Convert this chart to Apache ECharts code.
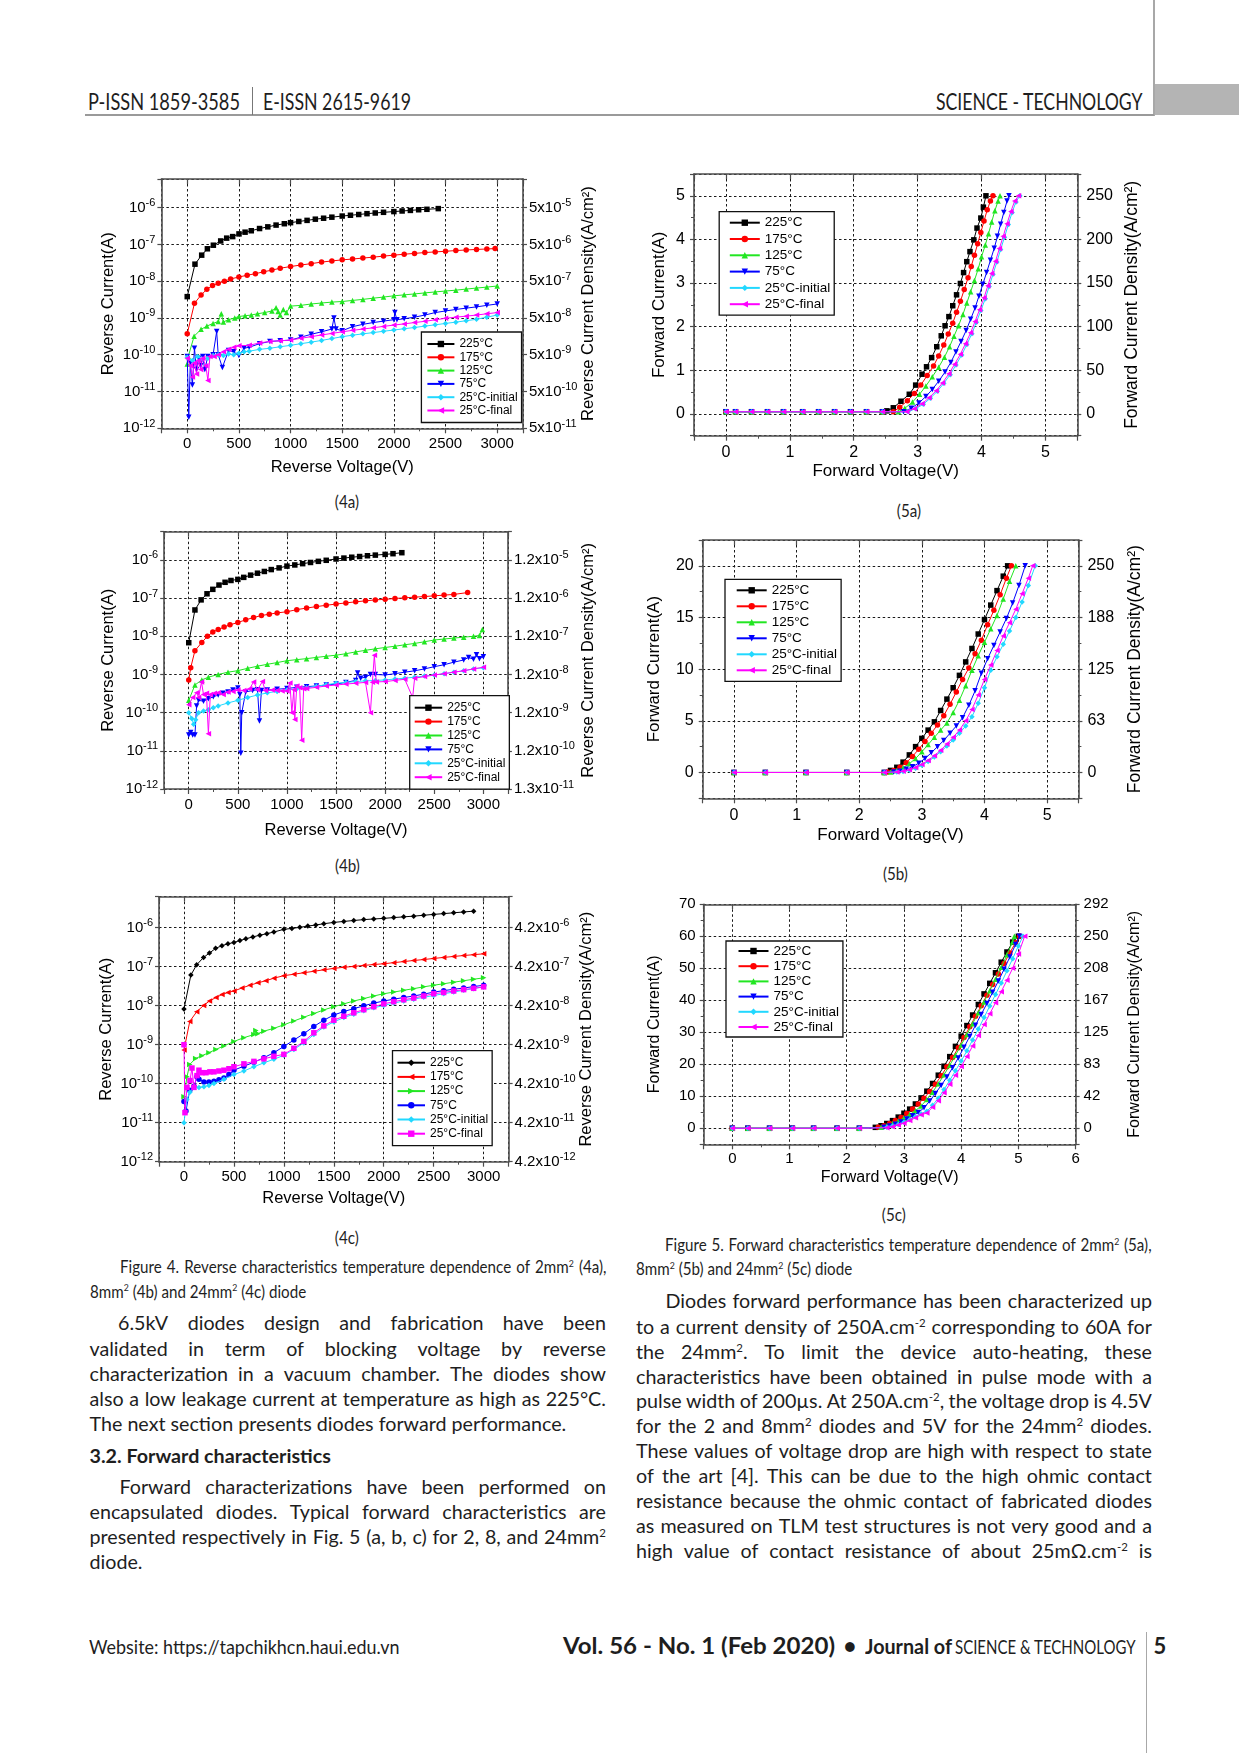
<!DOCTYPE html>
<html><head><meta charset="utf-8">
<script src="https://cdn.jsdelivr.net/npm/echarts@6/dist/echarts.min.js"></script>
<style>
html,body{margin:0;padding:0;background:#fff;}
body{width:1239px;height:1753px;position:relative;overflow:hidden;}
.chart{position:absolute;}
.line{position:absolute;height:26px;line-height:26px;white-space:nowrap;color:#1e1e1e;transform-origin:0 50%;}
.j{display:flex;justify-content:space-between;}
.sup{font-size:0.58em;position:relative;top:-0.6em;}
.bar{position:absolute;}
.t{position:absolute;white-space:nowrap;color:#1e1e1e;}
</style></head><body>
<div class="bar" style="left:1153px;top:0;width:1.5px;height:116px;background:#a8a8a8"></div>
<div class="bar" style="left:1155px;top:84px;width:84px;height:31px;background:#b4b4b4"></div>
<div class="bar" style="left:85px;top:114px;width:1069px;height:2px;background:#9a9a9a"></div>
<div class="bar" style="left:252px;top:87px;width:1px;height:28px;background:#777"></div>
<div class="bar" style="left:1146px;top:1632px;width:1.2px;height:121px;background:#a8a8a8"></div>

<div id="c4a" class="chart"></div>
<div id="c4b" class="chart"></div>
<div id="c4c" class="chart"></div>
<div id="c5a" class="chart"></div>
<div id="c5b" class="chart"></div>
<div id="c5c" class="chart"></div>

<script>
// ---------------- DATA ----------------
const seriesNames = ['225°C', '175°C', '125°C', '75°C', '25°C-initial', '25°C-final'];

// Fig 4a : reverse current (A) vs reverse voltage (V), 2 mm2
const r4a_225 = [[0,3.8e-9],[75,2.9e-8],[140,5.1e-8],[195,7.6e-8],[253,9.5e-8],[324,1.24e-7],[382,1.48e-7],[440,1.63e-7],[501,1.93e-7],[560,2.15e-7],[620,2.35e-7],[700,2.7e-7],[780,3.0e-7],[860,3.35e-7],[940,3.65e-7],[1000,3.9e-7],[1080,4.2e-7],[1160,4.5e-7],[1240,4.85e-7],[1320,5.15e-7],[1400,5.5e-7],[1500,5.9e-7],[1580,6.2e-7],[1660,6.5e-7],[1740,6.85e-7],[1820,7.15e-7],[1900,7.45e-7],[2000,7.8e-7],[2080,8.1e-7],[2160,8.4e-7],[2240,8.75e-7],[2320,9.0e-7],[2430,9.4e-7]];
const r4a_175 = [[0,3.7e-10],[70,2.5e-9],[134,4.2e-9],[190,6.0e-9],[245,7.6e-9],[300,8.8e-9],[360,1.0e-8],[420,1.15e-8],[500,1.3e-8],[580,1.45e-8],[660,1.6e-8],[740,1.8e-8],[820,2.0e-8],[900,2.25e-8],[1000,2.5e-8],[1100,2.75e-8],[1200,3.0e-8],[1300,3.3e-8],[1400,3.55e-8],[1500,3.8e-8],[1600,4.0e-8],[1700,4.25e-8],[1800,4.5e-8],[1900,4.8e-8],[2000,5.1e-8],[2100,5.4e-8],[2200,5.7e-8],[2300,6.0e-8],[2400,6.25e-8],[2500,6.5e-8],[2600,6.8e-8],[2700,7.05e-8],[2800,7.3e-8],[2900,7.5e-8],[2980,7.7e-8]];
const r4a_125 = [[0,5.6e-11],[10,9e-11],[67,3.2e-10],[134,4.9e-10],[190,6.0e-10],[250,7.1e-10],[300,8.0e-10],[330,1.3e-9],[350,7.8e-10],[400,9.0e-10],[460,1.0e-9],[500,1.1e-9],[560,1.15e-9],[620,1.2e-9],[680,1.3e-9],[750,1.4e-9],[820,1.55e-9],[860,1.9e-9],[880,1.5e-9],[900,1.2e-9],[930,1.7e-9],[960,1.4e-9],[1000,2.1e-9],[1100,2.2e-9],[1200,2.4e-9],[1300,2.55e-9],[1400,2.7e-9],[1500,2.8e-9],[1600,3.0e-9],[1700,3.2e-9],[1800,3.45e-9],[1900,3.7e-9],[2000,4.0e-9],[2100,4.25e-9],[2200,4.5e-9],[2300,4.8e-9],[2400,5.1e-9],[2500,5.4e-9],[2600,5.7e-9],[2700,6.1e-9],[2800,6.5e-9],[2900,6.9e-9],[3000,7.4e-9]];
const r4a_75 = [[0,9e-11],[15,2e-12],[30,6e-11],[50,1.5e-11],[70,1.5e-10],[90,4e-11],[110,8e-11],[130,5e-11],[150,9e-11],[170,4e-11],[200,9e-11],[250,1.0e-10],[285,4.3e-10],[300,1.0e-10],[340,4.5e-11],[400,1.3e-10],[450,1.2e-10],[500,9.5e-11],[550,1.5e-10],[600,1.6e-10],[700,2.0e-10],[800,2.3e-10],[900,2.4e-10],[1000,2.5e-10],[1100,3.0e-10],[1200,3.6e-10],[1300,4.2e-10],[1400,5.0e-10],[1420,1.0e-9],[1440,5.0e-10],[1500,4.5e-10],[1600,5.8e-10],[1700,6.7e-10],[1800,7.5e-10],[1900,8.2e-10],[2000,9.0e-10],[2010,1.4e-9],[2030,9e-10],[2100,9.5e-10],[2200,1.05e-9],[2300,1.2e-9],[2400,1.4e-9],[2500,1.55e-9],[2600,1.7e-9],[2700,1.85e-9],[2800,2.0e-9],[2900,2.2e-9],[3000,2.4e-9]];
const r4a_25i = [[0,8.5e-11],[50,7e-11],[100,9e-11],[150,7.5e-11],[200,8e-11],[250,9.5e-11],[300,1.0e-10],[350,9.5e-11],[400,1.05e-10],[450,1.0e-10],[500,1.1e-10],[550,1.2e-10],[600,1.25e-10],[700,1.4e-10],[800,1.5e-10],[900,1.65e-10],[1000,1.8e-10],[1100,2.0e-10],[1200,2.2e-10],[1300,2.45e-10],[1400,2.75e-10],[1500,3.1e-10],[1600,3.4e-10],[1700,3.7e-10],[1800,4.0e-10],[1900,4.35e-10],[2000,4.7e-10],[2100,5.1e-10],[2200,5.5e-10],[2300,6.0e-10],[2400,6.5e-10],[2500,7.1e-10],[2600,7.7e-10],[2700,8.4e-10],[2800,9.2e-10],[2900,1.05e-9],[3000,1.2e-9]];
const r4a_25f = [[0,8e-11],[30,5e-11],[50,2.5e-11],[70,6e-11],[90,3e-11],[110,7e-11],[130,4e-11],[150,8e-11],[180,5e-11],[200,2e-11],[220,9e-11],[260,9e-11],[300,1.0e-10],[350,1.2e-10],[400,1.4e-10],[450,1.6e-10],[500,1.75e-10],[600,1.8e-10],[700,2.1e-10],[800,2.3e-10],[900,2.4e-10],[1000,2.5e-10],[1100,2.8e-10],[1200,3.1e-10],[1300,3.45e-10],[1400,3.8e-10],[1500,4.2e-10],[1600,4.6e-10],[1700,5.0e-10],[1800,5.4e-10],[1900,5.9e-10],[2000,6.4e-10],[2100,6.9e-10],[2200,7.5e-10],[2300,8.1e-10],[2400,8.9e-10],[2500,9.8e-10],[2600,1.05e-9],[2700,1.12e-9],[2800,1.2e-9],[2900,1.3e-9],[3000,1.4e-9]];

// Fig 4b : 8 mm2
const r4b_225 = [[0,6.8e-9],[63,4.9e-8],[126,9e-8],[186,1.3e-7],[245,1.7e-7],[308,2.2e-7],[370,2.6e-7],[430,2.9e-7],[500,3.1e-7],[560,3.5e-7],[630,4.0e-7],[700,4.5e-7],[770,5.0e-7],[840,5.6e-7],[920,6.2e-7],[1000,6.9e-7],[1080,7.4e-7],[1160,8.0e-7],[1240,8.6e-7],[1320,9.2e-7],[1400,9.8e-7],[1500,1.06e-6],[1580,1.12e-6],[1660,1.18e-6],[1740,1.23e-6],[1820,1.29e-6],[1900,1.34e-6],[2000,1.4e-6],[2080,1.46e-6],[2170,1.55e-6]];
const r4b_175 = [[0,7.2e-10],[20,1.5e-9],[63,4.2e-9],[133,6.9e-9],[190,1.0e-8],[245,1.3e-8],[300,1.5e-8],[360,1.75e-8],[420,2.0e-8],[500,2.3e-8],[580,2.7e-8],[660,3.1e-8],[740,3.5e-8],[820,3.8e-8],[900,4.1e-8],[1000,4.4e-8],[1100,5.0e-8],[1200,5.5e-8],[1300,6.0e-8],[1400,6.5e-8],[1500,7.0e-8],[1600,7.5e-8],[1700,8.0e-8],[1800,8.5e-8],[1900,9.0e-8],[2000,9.3e-8],[2100,9.8e-8],[2200,1.02e-7],[2300,1.06e-7],[2400,1.1e-7],[2500,1.15e-7],[2600,1.2e-7],[2700,1.25e-7],[2840,1.4e-7]];
const r4b_125 = [[0,2.1e-10],[63,5.3e-10],[133,7.2e-10],[200,8.5e-10],[300,1.0e-9],[400,1.15e-9],[500,1.26e-9],[600,1.45e-9],[700,1.65e-9],[800,1.85e-9],[900,2.05e-9],[1000,2.3e-9],[1100,2.45e-9],[1200,2.6e-9],[1300,2.8e-9],[1400,3.0e-9],[1500,3.2e-9],[1600,3.5e-9],[1700,3.9e-9],[1800,4.3e-9],[1900,4.7e-9],[2000,5.1e-9],[2100,5.5e-9],[2200,6.0e-9],[2300,6.5e-9],[2400,7.2e-9],[2500,8.0e-9],[2600,8.5e-9],[2700,9.0e-9],[2800,9.5e-9],[2900,1.0e-8],[2960,1.05e-8],[2990,1.5e-8]];
const r4b_75 = [[0,2.6e-11],[20,3e-11],[40,2.6e-11],[63,2.6e-11],[80,1.5e-10],[100,2.1e-10],[150,2.0e-10],[200,2.3e-10],[250,2.6e-10],[300,2.9e-10],[350,3.2e-10],[400,3.5e-10],[450,3.9e-10],[500,4.4e-10],[520,3.0e-10],[530,8.7e-12],[540,1.0e-10],[580,3.5e-10],[650,3.8e-10],[700,4.0e-10],[720,6e-11],[740,3.8e-10],[800,3.9e-10],[900,4.1e-10],[1000,4.3e-10],[1100,4.6e-10],[1200,4.8e-10],[1300,5.0e-10],[1400,5.3e-10],[1500,5.6e-10],[1600,6.2e-10],[1700,7.0e-10],[1720,1.1e-9],[1750,8.0e-10],[1800,8.5e-10],[1850,1.0e-9],[1900,1.0e-9],[2000,9.7e-10],[2100,1.05e-9],[2200,1.15e-9],[2300,1.25e-9],[2400,1.4e-9],[2500,1.6e-9],[2600,1.8e-9],[2700,2.1e-9],[2800,2.4e-9],[2850,2.8e-9],[2900,2.5e-9],[2930,3.3e-9],[2960,2.6e-9],[3000,2.9e-9]];
const r4b_25i = [[0,1.0e-10],[30,7e-11],[50,5e-11],[70,6.5e-11],[100,1.0e-10],[150,1.1e-10],[200,1.2e-10],[250,1.35e-10],[300,1.5e-10],[400,1.8e-10],[500,2.1e-10],[600,2.5e-10],[700,2.9e-10],[800,3.3e-10],[900,3.6e-10],[1000,3.9e-10],[1100,4.2e-10],[1200,4.5e-10],[1300,4.9e-10],[1400,5.4e-10],[1500,5.9e-10],[1600,6.2e-10],[1700,6.5e-10],[1800,6.8e-10],[1900,7.0e-10],[2000,7.2e-10],[2100,7.6e-10],[2200,8.0e-10],[2300,8.5e-10],[2400,9.1e-10],[2500,9.7e-10],[2600,1.05e-9],[2700,1.15e-9],[2800,1.25e-9],[2900,1.4e-9],[3000,1.5e-9]];
const r4b_25f = [[0,1.6e-10],[40,2.5e-10],[80,3.3e-10],[100,2.5e-10],[130,6.4e-10],[150,3.0e-10],[180,3.2e-10],[200,2.8e-11],[220,3.0e-10],[260,3.2e-10],[300,3.3e-10],[350,3.0e-10],[400,3.5e-10],[450,3.6e-10],[500,3.9e-10],[560,3.8e-10],[620,4.2e-10],[660,6.4e-10],[700,4.0e-10],[750,6.5e-10],[780,3.8e-10],[850,3.9e-10],[900,3.8e-10],[950,3.7e-10],[1000,3.7e-10],[1030,6e-10],[1050,1.0e-10],[1070,4e-10],[1080,6.6e-11],[1100,5.0e-10],[1130,4.5e-10],[1150,1.9e-11],[1170,4.2e-10],[1200,4.3e-10],[1300,4.6e-10],[1400,5.0e-10],[1500,5.3e-10],[1600,5.6e-10],[1700,5.9e-10],[1800,6.2e-10],[1850,1.0e-10],[1870,6.3e-10],[1890,3.2e-9],[1910,6.4e-10],[2000,6.5e-10],[2100,7.0e-10],[2200,7.5e-10],[2280,2.5e-10],[2300,8.0e-10],[2400,8.8e-10],[2500,9.7e-10],[2600,1.05e-9],[2700,1.15e-9],[2800,1.25e-9],[2900,1.4e-9],[3000,1.55e-9]];

// Fig 4c : 24 mm2
const r4c_225 = [[0,8.1e-9],[69,6.0e-8],[127,1.1e-7],[196,1.7e-7],[255,2.2e-7],[317,2.9e-7],[380,3.4e-7],[440,3.8e-7],[500,4.1e-7],[560,4.6e-7],[620,5.1e-7],[690,5.7e-7],[760,6.3e-7],[830,6.9e-7],[900,7.6e-7],[1000,8.9e-7],[1080,9.4e-7],[1160,1.0e-6],[1240,1.08e-6],[1320,1.15e-6],[1400,1.24e-6],[1500,1.34e-6],[1600,1.42e-6],[1700,1.5e-6],[1800,1.58e-6],[1900,1.64e-6],[2000,1.7e-6],[2100,1.78e-6],[2200,1.86e-6],[2300,1.94e-6],[2400,2.04e-6],[2500,2.15e-6],[2600,2.25e-6],[2700,2.36e-6],[2800,2.48e-6],[2900,2.6e-6]];
const r4c_175 = [[0,7.2e-10],[58,3.9e-9],[127,6.9e-9],[196,1.0e-8],[255,1.3e-8],[320,1.6e-8],[380,1.9e-8],[440,2.15e-8],[500,2.35e-8],[580,2.8e-8],[660,3.3e-8],[740,3.8e-8],[820,4.3e-8],[900,5.0e-8],[1000,5.8e-8],[1100,6.3e-8],[1200,6.9e-8],[1300,7.5e-8],[1400,8.2e-8],[1500,8.9e-8],[1600,9.5e-8],[1700,1.0e-7],[1800,1.06e-7],[1900,1.12e-7],[2000,1.17e-7],[2100,1.25e-7],[2200,1.33e-7],[2300,1.42e-7],[2400,1.5e-7],[2500,1.6e-7],[2600,1.7e-7],[2700,1.8e-7],[2800,1.9e-7],[2900,2.0e-7],[3000,2.1e-7]];
const r4c_125 = [[0,4.6e-11],[30,1.5e-10],[58,3.1e-10],[117,4.4e-10],[180,5.2e-10],[250,6.2e-10],[320,7.5e-10],[400,9.2e-10],[500,1.2e-9],[600,1.5e-9],[700,1.8e-9],[720,2.3e-9],[740,1.9e-9],[800,2.2e-9],[900,2.6e-9],[1000,3.2e-9],[1100,4.0e-9],[1200,5.0e-9],[1300,6.2e-9],[1400,7.7e-9],[1500,9.3e-9],[1600,1.1e-8],[1700,1.3e-8],[1800,1.5e-8],[1900,1.75e-8],[2000,2.0e-8],[2100,2.2e-8],[2200,2.45e-8],[2300,2.7e-8],[2400,3.0e-8],[2500,3.3e-8],[2600,3.6e-8],[2700,3.95e-8],[2800,4.3e-8],[2900,4.7e-8],[3000,5.1e-8]];
const r4c_75 = [[0,3.5e-11],[20,2e-11],[58,6.8e-11],[100,8.5e-11],[130,1.5e-10],[150,1.3e-10],[200,1.1e-10],[250,1.1e-10],[300,1.15e-10],[350,1.25e-10],[400,1.4e-10],[450,1.7e-10],[500,2.2e-10],[600,2.8e-10],[700,3.5e-10],[800,4.6e-10],[900,6.2e-10],[1000,8.9e-10],[1100,1.3e-9],[1200,1.9e-9],[1300,2.9e-9],[1400,4.2e-9],[1500,5.7e-9],[1600,7.0e-9],[1700,8.3e-9],[1800,9.8e-9],[1900,1.15e-8],[2000,1.3e-8],[2100,1.45e-8],[2200,1.6e-8],[2300,1.75e-8],[2400,1.95e-8],[2500,2.2e-8],[2600,2.4e-8],[2700,2.6e-8],[2800,2.8e-8],[2900,3.05e-8],[3000,3.3e-8]];
const r4c_25i = [[0,1.0e-11],[30,4e-11],[60,6e-11],[100,8.3e-11],[150,8e-11],[200,8.3e-11],[250,9e-11],[300,1.0e-10],[400,1.3e-10],[500,1.7e-10],[600,2.1e-10],[700,2.7e-10],[800,3.4e-10],[900,4.2e-10],[1000,5.3e-10],[1100,7.5e-10],[1200,1.1e-9],[1300,1.8e-9],[1400,2.8e-9],[1500,3.8e-9],[1600,4.9e-9],[1700,6.0e-9],[1800,7.3e-9],[1900,8.7e-9],[2000,1.0e-8],[2100,1.15e-8],[2200,1.3e-8],[2300,1.45e-8],[2400,1.62e-8],[2500,1.8e-8],[2600,2.0e-8],[2700,2.2e-8],[2800,2.45e-8],[2900,2.7e-8],[3000,3.0e-8]];
const r4c_25f = [[0,9.9e-10],[10,1.8e-11],[30,8e-11],[60,1.2e-10],[80,2.5e-10],[100,8e-11],[130,1.6e-10],[150,2.2e-10],[180,1.9e-10],[220,1.9e-10],[260,2.0e-10],[300,2.0e-10],[350,2.1e-10],[400,2.2e-10],[450,2.4e-10],[500,2.7e-10],[600,3.2e-10],[700,3.7e-10],[800,4.3e-10],[900,5.0e-10],[1000,5.6e-10],[1100,8.0e-10],[1200,1.2e-9],[1300,2.0e-9],[1400,3.0e-9],[1500,4.2e-9],[1600,5.3e-9],[1700,6.5e-9],[1800,7.8e-9],[1900,9.3e-9],[2000,1.1e-8],[2100,1.25e-8],[2200,1.4e-8],[2300,1.55e-8],[2400,1.75e-8],[2500,2.0e-8],[2600,2.15e-8],[2700,2.35e-8],[2800,2.55e-8],[2900,2.75e-8],[3000,3.0e-8]];

// Fig 5a : forward current (A) vs forward voltage (V), 2 mm2
const f5a_flat = [[0,0.05],[0.15,0.05],[0.4,0.05],[0.65,0.05],[0.9,0.05],[1.2,0.05],[1.45,0.05],[1.7,0.05],[1.95,0.05],[2.2,0.05],[2.45,0.05]];
const f5a_225 = [[2.52,0.07],[2.62,0.14],[2.74,0.29],[2.87,0.45],[2.97,0.66],[3.07,0.91],[3.14,1.08],[3.22,1.29],[3.30,1.54],[3.37,1.79],[3.43,2.02],[3.49,2.23],[3.55,2.48],[3.61,2.73],[3.67,2.99],[3.72,3.24],[3.77,3.49],[3.82,3.72],[3.88,3.99],[3.93,4.26],[3.99,4.49],[4.03,4.74],[4.07,5.0]];
const f5a_175 = [[2.62,0.05],[2.72,0.15],[2.84,0.3],[2.95,0.47],[3.05,0.66],[3.15,0.88],[3.25,1.1],[3.33,1.33],[3.41,1.58],[3.48,1.83],[3.55,2.08],[3.61,2.33],[3.67,2.58],[3.73,2.85],[3.79,3.12],[3.84,3.38],[3.89,3.64],[3.94,3.9],[3.99,4.16],[4.04,4.42],[4.09,4.68],[4.14,4.88],[4.18,5.0]];
const f5a_125 = [[2.7,0.05],[2.8,0.13],[2.92,0.27],[3.03,0.45],[3.13,0.64],[3.23,0.85],[3.33,1.07],[3.42,1.3],[3.5,1.54],[3.57,1.78],[3.64,2.02],[3.71,2.28],[3.77,2.54],[3.83,2.8],[3.89,3.06],[3.95,3.33],[4.0,3.6],[4.06,3.87],[4.11,4.13],[4.16,4.4],[4.21,4.66],[4.26,4.88],[4.29,5.0]];
const f5a_75 = [[2.78,0.05],[2.9,0.13],[3.02,0.25],[3.13,0.4],[3.23,0.56],[3.33,0.75],[3.43,0.96],[3.52,1.18],[3.6,1.42],[3.68,1.66],[3.76,1.91],[3.83,2.17],[3.9,2.43],[3.96,2.7],[4.02,2.97],[4.08,3.24],[4.14,3.52],[4.2,3.8],[4.25,4.07],[4.3,4.35],[4.35,4.62],[4.4,4.88],[4.43,5.0]];
const f5a_25i = [[2.85,0.05],[2.97,0.12],[3.09,0.22],[3.2,0.36],[3.31,0.52],[3.41,0.7],[3.51,0.9],[3.6,1.12],[3.69,1.35],[3.77,1.59],[3.85,1.84],[3.92,2.1],[3.99,2.37],[4.06,2.64],[4.12,2.92],[4.18,3.2],[4.24,3.48],[4.3,3.77],[4.36,4.05],[4.42,4.34],[4.48,4.62],[4.54,4.86],[4.6,5.0]];
const f5a_25f = [[2.83,0.05],[2.95,0.12],[3.07,0.23],[3.18,0.37],[3.29,0.53],[3.39,0.71],[3.49,0.92],[3.58,1.14],[3.67,1.37],[3.75,1.61],[3.83,1.86],[3.9,2.12],[3.97,2.39],[4.04,2.66],[4.1,2.94],[4.16,3.22],[4.22,3.5],[4.28,3.79],[4.34,4.07],[4.4,4.36],[4.46,4.64],[4.52,4.88],[4.58,5.0]];

// Fig 5b : 8 mm2
const f5b_flat = [[0,0],[0.5,0],[1.15,0],[1.8,0],[2.4,0]];
const f5b_225 = [[2.5,0.2],[2.6,0.5],[2.7,1.0],[2.8,1.7],[2.9,2.5],[3.0,3.3],[3.1,4.1],[3.2,4.9],[3.3,6.0],[3.4,7.1],[3.5,8.2],[3.6,9.4],[3.7,10.7],[3.8,12.0],[3.9,13.4],[4.0,14.8],[4.1,16.2],[4.2,17.6],[4.3,19.0],[4.37,20]];
const f5b_175 = [[2.45,0.05],[2.55,0.2],[2.65,0.5],[2.75,0.95],[2.85,1.55],[2.95,2.25],[3.05,3.0],[3.15,3.8],[3.25,4.6],[3.35,5.5],[3.45,6.6],[3.55,7.8],[3.65,9.0],[3.75,10.1],[3.85,11.5],[3.95,12.8],[4.05,14.3],[4.15,15.7],[4.25,17.2],[4.35,18.8],[4.43,20]];
const f5b_125 = [[2.5,0.05],[2.6,0.2],[2.7,0.45],[2.8,0.85],[2.9,1.35],[3.0,2.0],[3.1,2.7],[3.2,3.4],[3.3,4.1],[3.4,4.8],[3.5,5.8],[3.6,7.0],[3.7,8.4],[3.8,9.9],[3.9,11.3],[4.0,12.6],[4.1,13.9],[4.2,15.2],[4.3,16.8],[4.4,18.5],[4.5,20]];
const f5b_75 = [[2.55,0.05],[2.65,0.12],[2.75,0.3],[2.85,0.55],[2.95,0.9],[3.05,1.35],[3.15,1.9],[3.25,2.5],[3.35,3.1],[3.45,3.8],[3.55,4.5],[3.65,5.3],[3.75,6.5],[3.85,7.9],[3.95,9.6],[4.05,11.0],[4.15,12.3],[4.25,13.6],[4.35,14.9],[4.45,16.4],[4.55,18.1],[4.65,20]];
const f5b_25i = [[2.6,0.05],[2.7,0.1],[2.8,0.22],[2.9,0.42],[3.0,0.7],[3.1,1.05],[3.2,1.5],[3.3,2.0],[3.4,2.55],[3.5,3.15],[3.6,3.8],[3.7,4.5],[3.8,5.4],[3.9,6.7],[4.0,8.2],[4.1,9.9],[4.2,11.2],[4.3,12.4],[4.4,13.7],[4.5,15.0],[4.6,16.5],[4.7,18.1],[4.81,20]];
const f5b_25f = [[2.6,0.05],[2.7,0.12],[2.8,0.26],[2.9,0.48],[3.0,0.78],[3.1,1.15],[3.2,1.62],[3.3,2.15],[3.4,2.75],[3.5,3.4],[3.6,4.1],[3.7,5.0],[3.8,6.1],[3.9,7.5],[4.0,9.0],[4.1,10.4],[4.2,11.8],[4.3,13.2],[4.4,14.5],[4.5,15.8],[4.6,17.3],[4.7,18.8],[4.77,20]];

// Fig 5c : 24 mm2
const f5c_flat = [[0,0],[0.27,0],[0.65,0],[1.05,0],[1.42,0],[1.83,0],[2.22,0]];
const f5c_225 = [[2.5,0.3],[2.6,0.8],[2.7,1.5],[2.8,2.4],[2.9,3.5],[3.0,4.7],[3.1,6.0],[3.2,7.6],[3.3,9.5],[3.4,11.6],[3.5,14.0],[3.6,16.6],[3.7,19.4],[3.8,22.4],[3.9,25.6],[4.0,28.8],[4.1,32.1],[4.2,35.4],[4.3,38.7],[4.4,42.0],[4.5,45.3],[4.6,48.6],[4.7,51.9],[4.8,55.1],[4.9,58.2],[5.0,60]];
const f5c_175 = [[2.55,0.3],[2.65,0.8],[2.75,1.5],[2.85,2.4],[2.95,3.4],[3.05,4.6],[3.15,6.0],[3.25,7.6],[3.35,9.4],[3.45,11.5],[3.55,13.8],[3.65,16.4],[3.75,19.2],[3.85,22.1],[3.95,25.2],[4.05,28.4],[4.15,31.7],[4.25,35.0],[4.35,38.3],[4.45,41.6],[4.55,44.9],[4.65,48.2],[4.75,51.5],[4.85,54.8],[4.95,58.0],[5.02,60]];
const f5c_125 = [[2.6,0.3],[2.7,0.8],[2.8,1.5],[2.9,2.3],[3.0,3.2],[3.1,4.3],[3.2,5.5],[3.3,7.0],[3.4,9.0],[3.5,11.3],[3.6,13.9],[3.7,16.7],[3.8,19.7],[3.9,22.8],[4.0,26.0],[4.1,29.3],[4.2,32.7],[4.3,36.1],[4.4,39.5],[4.5,43.0],[4.6,46.6],[4.7,50.3],[4.8,54.2],[4.9,58.3],[4.93,60]];
const f5c_75 = [[2.65,0.3],[2.75,0.7],[2.85,1.3],[2.95,2.0],[3.05,2.9],[3.15,3.9],[3.25,4.9],[3.35,6.4],[3.45,8.5],[3.55,10.9],[3.65,13.4],[3.75,16.0],[3.85,18.9],[3.95,22.0],[4.05,25.3],[4.15,28.7],[4.25,32.2],[4.35,35.6],[4.45,39.0],[4.55,42.5],[4.65,46.0],[4.75,49.7],[4.85,53.5],[4.95,57.4],[5.02,60]];
const f5c_25i = [[2.7,0.3],[2.8,0.7],[2.9,1.2],[3.0,1.9],[3.1,2.7],[3.2,3.6],[3.3,4.5],[3.4,5.3],[3.5,7.2],[3.6,9.4],[3.7,12.1],[3.8,15.0],[3.9,18.0],[4.0,21.0],[4.1,24.2],[4.2,27.6],[4.3,31.0],[4.4,34.6],[4.5,38.2],[4.6,41.8],[4.7,45.4],[4.8,49.2],[4.9,53.0],[5.0,57.0],[5.08,60]];
const f5c_25f = [[2.7,0.2],[2.8,0.5],[2.9,1.0],[3.0,1.6],[3.1,2.4],[3.2,3.3],[3.3,4.2],[3.4,4.8],[3.5,6.6],[3.6,8.6],[3.7,11.1],[3.8,13.8],[3.9,16.6],[4.0,19.3],[4.1,22.4],[4.2,25.7],[4.3,29.0],[4.4,32.4],[4.5,35.8],[4.6,39.2],[4.7,42.7],[4.8,46.3],[4.9,50.0],[5.0,54.5],[5.11,60]];

// Right-axis tick labels (as printed on the figure)
const right4a = [['5x10','-11'],['5x10','-10'],['5x10','-9'],['5x10','-8'],['5x10','-7'],['5x10','-6'],['5x10','-5']];
const right4b = [['1.3x10','-11'],['1.2x10','-10'],['1.2x10','-9'],['1.2x10','-8'],['1.2x10','-7'],['1.2x10','-6'],['1.2x10','-5']];
const right4c = [['4.2x10','-12'],['4.2x10','-11'],['4.2x10','-10'],['4.2x10','-9'],['4.2x10','-8'],['4.2x10','-7'],['4.2x10','-6']];
const right5a = ['0','50','100','150','200','250'];
const right5b = ['0','63','125','188','250'];
const right5c = ['0','42','83','125','167','208','250','292'];

// ---------------- CHART BUILDER ----------------
const FONT = '"Liberation Sans", Arial, Helvetica, sans-serif';
const COLORS = ['#000000', '#ff0000', '#22e622', '#0000ff', '#22d8ff', '#ff00ff'];
const SYM = {
  sq: 'rect', ci: 'circle', up: 'triangle', di: 'diamond',
  dn: 'path://M0,0L10,0L5,9Z', lf: 'path://M9,0L9,10L0,5Z', rt: 'path://M0,0L0,10L9,5Z'
};
const mult = (v, m) => Math.abs(v / m - Math.round(v / m)) < 1e-6;

function build(id, c) {
  const el = document.getElementById(id);
  el.style.left = c.box[0] + 'px'; el.style.top = c.box[1] + 'px';
  el.style.width = c.box[2] + 'px'; el.style.height = c.box[3] + 'px';
  const ch = echarts.init(el, null, {renderer: 'canvas'});
  const [L, T, R, B] = c.frame;
  const isLog = c.y.type === 'log';
  const lc = '#4d4d4d';
  const fs = c.fs || 15;
  const axLine = {show: true, onZero: false, lineStyle: {color: lc, width: 1.6}};
  const split = {show: true, lineStyle: {color: '#1a1a1a', width: 1, type: [2.5, 2.5]}};
  const lab = {fontSize: fs, color: '#000', fontFamily: FONT};
  const rich = {
    b: {fontSize: fs, fontFamily: FONT, color: '#000', lineHeight: 20},
    s: {fontSize: 11, fontFamily: FONT, color: '#000', verticalAlign: 'top', lineHeight: 11}
  };
  const nameStyle = {fontSize: c.nfs || 16.5, color: '#000', fontFamily: FONT};
  const common = {nameMoveOverlap: false};

  const xAxes = [
    Object.assign({type: 'value', position: 'bottom', min: c.x.min, max: c.x.max, splitNumber: c.x.split,
      axisLine: axLine, axisTick: {show: true, length: 5, lineStyle: {color: lc, width: 1.2}},
      axisLabel: Object.assign({}, lab, {margin: c.x.margin || 8, formatter: v => mult(v, c.x.major) ? String(Math.round(v * 1000) / 1000) : ''}),
      splitLine: split, name: c.xName, nameLocation: 'middle', nameGap: c.x.nameGap, nameTextStyle: nameStyle}, common),
    {type: 'value', position: 'top', min: c.x.min, max: c.x.max, splitNumber: c.x.split,
      axisLine: axLine, axisTick: {show: true, inside: true, length: 5, lineStyle: {color: lc, width: 1.2}},
      axisLabel: {show: false}, splitLine: {show: false}},
    {type: 'value', position: 'bottom', min: c.x.min, max: c.x.max, interval: c.x.minor,
      axisLine: {show: false, onZero: false}, axisTick: {show: true, length: 3, lineStyle: {color: lc, width: 1}},
      axisLabel: {show: false}, splitLine: {show: false}}
  ];

  let leftFmt, rightFmt;
  if (isLog) {
    const expOf = v => { const e = Math.log10(v); const r = Math.round(e); return Math.abs(e - r) < 1e-3 ? r : null; };
    leftFmt = v => { const r = expOf(v); return r === null ? '' : '{b|10}{s|' + r + '}'; };
    rightFmt = v => { const r = expOf(v); if (r === null) return ''; const s = c.rightLabels[r - c.y.minExp]; return s ? '{b|' + s[0] + '}{s|' + s[1] + '}' : ''; };
  } else {
    leftFmt = v => mult(v, c.y.major) ? String(Math.round(v * 1000) / 1000) : '';
    rightFmt = v => { if (!mult(v, c.y.major)) return ''; const s = c.rightLabels[Math.round(v / c.y.major)]; return s === undefined ? '' : s; };
  }
  const yBase = isLog ? {type: 'log', logBase: 10, min: c.y.min, max: c.y.max}
                      : {type: 'value', min: c.y.min, max: c.y.max, splitNumber: c.y.split};
  const yAxes = [
    Object.assign({}, yBase, common, {position: 'left', axisLine: axLine,
      axisTick: {show: true, length: 4, lineStyle: {color: lc, width: 1.2}},
      axisLabel: Object.assign({}, lab, {margin: c.y.lmargin || 6, formatter: leftFmt, rich: rich}),
      splitLine: split, name: c.leftName, nameLocation: 'middle', nameGap: c.y.lGap, nameRotate: 90, nameTextStyle: nameStyle}),
    Object.assign({}, yBase, common, {position: 'right', axisLine: axLine,
      axisTick: {show: true, length: 4, lineStyle: {color: lc, width: 1.2}},
      axisLabel: Object.assign({}, lab, {margin: c.y.rmargin || 6, formatter: rightFmt, rich: rich}),
      splitLine: {show: false}, name: c.rightName, nameLocation: 'middle', nameGap: c.y.rGap, nameRotate: 90,
      nameTextStyle: Object.assign({}, nameStyle, c.rnfs ? {fontSize: c.rnfs} : {})})
  ];
  if (!isLog) {
    ['left', 'right'].forEach(p => yAxes.push({type: 'value', position: p, min: c.y.min, max: c.y.max, interval: c.y.minor,
      axisLine: {show: false, onZero: false}, axisTick: {show: true, length: 3, lineStyle: {color: lc, width: 1}},
      axisLabel: {show: false}, splitLine: {show: false}}));
  }

  const series = c.data.map((d, i) => ({
    type: 'line', name: seriesNames[i], data: d, xAxisIndex: 0, yAxisIndex: 0,
    symbol: SYM[c.sym[i]], symbolSize: c.ss || 5.5, showSymbol: true, showAllSymbol: true,
    lineStyle: {width: 1, color: COLORS[i]}, itemStyle: {color: COLORS[i]}, color: COLORS[i],
    z: 2 + i, animation: false, silent: true
  }));

  const lg = c.legend;
  ch.setOption({
    animation: false,
    textStyle: {fontFamily: FONT},
    grid: {left: L - c.box[0], top: T - c.box[1], width: R - L, height: B - T, containLabel: false, outerBoundsMode: 'none'},
    xAxis: xAxes, yAxis: yAxes,
    legend: {orient: 'vertical', left: lg.x - c.box[0], top: lg.y - c.box[1], itemWidth: lg.iw, itemHeight: 8,
      itemGap: lg.gap, padding: lg.pad, borderColor: '#111', borderWidth: 1.3, backgroundColor: '#fff',
      textStyle: {fontSize: lg.fs, color: '#000', fontFamily: FONT}, data: seriesNames, selectedMode: false, z: 10},
    series: series
  });
}

build('c4a', {
  box: [70, 165, 560, 325], frame: [161.4, 179, 523, 428.3],
  x: {min: -250, max: 3250, split: 7, major: 500, minor: 250, nameGap: 31},
  y: {type: 'log', min: 1e-12, max: 6e-6, minExp: -12, lGap: 44, rGap: 57},
  leftName: 'Reverse Current(A)', rightName: 'Reverse Current Density(A/cm²)', xName: 'Reverse Voltage(V)',
  rightLabels: right4a,
  legend: {x: 421.4, y: 332, iw: 27, gap: 1.3, pad: [6, 4, 6, 5], fs: 12},
  sym: ['sq', 'ci', 'up', 'dn', 'di', 'lf'],
  data: [r4a_225, r4a_175, r4a_125, r4a_75, r4a_25i, r4a_25f]
});
build('c4b', {
  box: [70, 520, 560, 330], frame: [164.2, 531.7, 507.9, 789],
  x: {min: -250, max: 3250, split: 7, major: 500, minor: 250, nameGap: 33},
  y: {type: 'log', min: 1e-12, max: 5.5e-6, minExp: -12, lGap: 47, rGap: 72},
  leftName: 'Reverse Current(A)', rightName: 'Reverse Current Density(A/cm²)', xName: 'Reverse Voltage(V)',
  rightLabels: right4b,
  legend: {x: 409.7, y: 695.7, iw: 27.5, gap: 1.9, pad: [6, 4, 6, 4], fs: 12},
  sym: ['sq', 'ci', 'up', 'dn', 'di', 'lf'],
  data: [r4b_225, r4b_175, r4b_125, r4b_75, r4b_25i, r4b_25f]
});
build('c4c', {
  box: [70, 885, 560, 330], frame: [159, 896.7, 508.6, 1161.7],
  x: {min: -250, max: 3250, split: 7, major: 500, minor: 250, nameGap: 28},
  y: {type: 'log', min: 1e-12, max: 6.1e-6, minExp: -12, lGap: 44, rGap: 69},
  leftName: 'Reverse Current(A)', rightName: 'Reverse Current Density(A/cm²)', xName: 'Reverse Voltage(V)',
  rightLabels: right4c,
  legend: {x: 392.5, y: 1050.7, iw: 27.5, gap: 2.2, pad: [6, 4, 6, 4], fs: 12},
  sym: ['di', 'lf', 'rt', 'ci', 'di', 'sq'],
  data: [r4c_225, r4c_175, r4c_125, r4c_75, r4c_25i, r4c_25f]
});
build('c5a', {
  box: [630, 160, 560, 330], frame: [694, 174, 1077.3, 435.7], fs: 16, nfs: 17, rnfs: 17.5,
  x: {min: -0.5, max: 5.5, split: 6, major: 1, minor: 0.5, nameGap: 27, margin: 9},
  y: {type: 'value', min: -0.5, max: 5.5, split: 6, major: 1, minor: 0.5, lGap: 26, rGap: 46, lmargin: 9, rmargin: 9},
  leftName: 'Forward Current(A)', rightName: 'Forward Current Density(A/cm²)', xName: 'Forward Voltage(V)',
  rightLabels: right5a,
  legend: {x: 719.2, y: 211.7, iw: 30, gap: 2.3, pad: [4, 4, 4, 9.6], fs: 13.5},
  sym: ['sq', 'ci', 'up', 'dn', 'di', 'lf'], ss: 5.5,
  data: [f5a_flat.concat(f5a_225), f5a_flat.concat(f5a_175), f5a_flat.concat(f5a_125), f5a_flat.concat(f5a_75), f5a_flat.concat(f5a_25i), f5a_flat.concat(f5a_25f)]
});
build('c5b', {
  box: [630, 530, 560, 320], frame: [702.7, 540, 1078.4, 798.3], fs: 16, nfs: 17, rnfs: 17.5,
  x: {min: -0.5, max: 5.5, split: 6, major: 1, minor: 0.5, nameGap: 29, margin: 9},
  y: {type: 'value', min: -2.5, max: 22.5, split: 5, major: 5, minor: 2.5, lGap: 40, rGap: 48, lmargin: 9, rmargin: 9},
  leftName: 'Forward Current(A)', rightName: 'Forward Current Density(A/cm²)', xName: 'Forward Voltage(V)',
  rightLabels: right5b,
  legend: {x: 725, y: 579.3, iw: 30, gap: 2, pad: [4, 4, 4, 10.7], fs: 13.5},
  sym: ['sq', 'ci', 'up', 'dn', 'di', 'lf'], ss: 5.5,
  data: [f5b_flat.concat(f5b_225), f5b_flat.concat(f5b_175), f5b_flat.concat(f5b_125), f5b_flat.concat(f5b_75), f5b_flat.concat(f5b_25i), f5b_flat.concat(f5b_25f)]
});
build('c5c', {
  box: [630, 890, 560, 310], frame: [703.7, 904.3, 1075.6, 1144.3], fs: 15, nfs: 16, rnfs: 16,
  x: {min: -0.5, max: 6, split: 6, major: 1, minor: 0.5, nameGap: 25, margin: 7},
  y: {type: 'value', min: -5, max: 70, split: 7, major: 10, minor: 5, lGap: 41, rGap: 51, lmargin: 8, rmargin: 8},
  leftName: 'Forward Current(A)', rightName: 'Forward Current Density(A/cm²)', xName: 'Forward Voltage(V)',
  rightLabels: right5c,
  legend: {x: 726, y: 941, iw: 30, gap: 1.2, pad: [3, 4, 3, 11.5], fs: 13.5},
  sym: ['sq', 'ci', 'up', 'dn', 'di', 'lf'], ss: 5.5,
  data: [f5c_flat.concat(f5c_225), f5c_flat.concat(f5c_175), f5c_flat.concat(f5c_125), f5c_flat.concat(f5c_75), f5c_flat.concat(f5c_25i), f5c_flat.concat(f5c_25f)]
});

// ---------------- PAGE TEXT ----------------
const ctx = document.createElement('canvas').getContext('2d');
const plain = s => s.replace(/\^\{([^}]*)\}/g, '');
const supify = s => s.replace(/\^\{([^}]*)\}/g, '<span class="sup">$1</span>');
function measure(text, family, weight) { ctx.font = (weight || 'normal') + ' 100px ' + family; return ctx.measureText(plain(text)).width; }
const BODYF = 'Lato, "Open Sans", sans-serif';
const CONDF = 'Lato, "Open Sans", sans-serif';   // condensed look obtained with scaleX
const bodySize = 100 * 477 / measure('The next section presents diodes forward performance.', BODYF);
const capSize = 17.5;
const capK = 206 / (measure('8mm (4b) and 24mm (4c) diode', CONDF) * capSize / 100);

// text with horizontal scaling to a target width
function fitText(t, x, yc, w, fam, weight, size, center) {
  const d = document.createElement('div');
  d.className = 't';
  d.style.fontFamily = fam; d.style.fontWeight = weight || 'normal';
  d.style.fontSize = size + 'px'; d.style.lineHeight = (size * 1.2) + 'px';
  d.style.top = (yc - size * 0.6) + 'px';
  const nat = measure(t, fam, weight) * size / 100;
  const k = w ? w / nat : 1;
  if (center) { d.style.left = (x - nat / 2) + 'px'; d.style.transformOrigin = '50% 50%'; }
  else { d.style.left = x + 'px'; d.style.transformOrigin = '0 50%'; }
  d.style.transform = 'scaleX(' + k + ')';
  d.innerHTML = supify(t);
  document.body.appendChild(d);
  return d;
}
function addLine(o) {
  const d = document.createElement('div');
  d.className = 'line';
  const ind = o.ind || 0;
  const k = o.k || 1;
  d.style.fontFamily = o.fam; d.style.fontSize = o.size + 'px';
  if (o.bold) d.style.fontWeight = 'bold';
  d.style.left = (o.x0 + ind) + 'px';
  d.style.top = (o.y - 13) + 'px';
  if (k !== 1) d.style.transform = 'scaleX(' + k + ')';
  if (o.j) {
    d.classList.add('j');
    d.style.width = ((o.x1 - o.x0 - ind) / k) + 'px';
    d.innerHTML = o.t.split(' ').map(w => '<span>' + supify(w) + '</span>').join('');
  } else {
    d.innerHTML = supify(o.t);
  }
  document.body.appendChild(d);
}

// header / footer
fitText('P-ISSN 1859-3585', 88, 102, 152, CONDF, 'normal', 23);
fitText('E-ISSN 2615-9619', 263, 102, 148, CONDF, 'normal', 23);
fitText('SCIENCE - TECHNOLOGY', 936, 102, 207, CONDF, 'normal', 23);
fitText('Website: https://tapchikhcn.haui.edu.vn', 88.5, 1646, 310.5, CONDF, 'normal', 20);
fitText('Vol. 56 - No. 1 (Feb 2020)', 562.6, 1646, 272, CONDF, 'bold', 23);
fitText('•', 850, 1646, 0, CONDF, 'bold', 22, true);
fitText('Journal of', 865, 1646, 87, CONDF, 'bold', 20);
fitText('SCIENCE & TECHNOLOGY', 954.6, 1646, 181, CONDF, 'normal', 20);
fitText('5', 1160, 1646, 0, CONDF, 'bold', 22, true);

// sub-figure captions
[['(4a)', 347, 501], ['(4b)', 347, 865], ['(4c)', 347, 1237], ['(5a)', 909, 510], ['(5b)', 895, 873], ['(5c)', 894, 1214]].forEach(a => {
  const d = fitText(a[0], a[1], a[2], 0, CONDF, 'normal', capSize, true);
  d.style.transform = 'scaleX(' + capK + ')';
});

const L0 = 89.5, L1 = 606, R0 = 636, R1 = 1152;
const leftLines = [
  {y: 1267, t: 'Figure 4. Reverse characteristics temperature dependence of 2mm^{2} (4a),', j: true, ind: 30, fam: CONDF, size: capSize, k: capK},
  {y: 1291.5, t: '8mm^{2} (4b) and 24mm^{2} (4c) diode', fam: CONDF, size: capSize, k: capK},
  {y: 1323, t: '6.5kV diodes design and fabrication have been', j: true, ind: 28.5},
  {y: 1349, t: 'validated in term of blocking voltage by reverse', j: true},
  {y: 1374, t: 'characterization in a vacuum chamber. The diodes show', j: true},
  {y: 1399, t: 'also a low leakage current at temperature as high as 225°C.', j: true},
  {y: 1424, t: 'The next section presents diodes forward performance.'},
  {y: 1456, t: '3.2. Forward characteristics', bold: true},
  {y: 1486.7, t: 'Forward characterizations have been performed on', j: true, ind: 30},
  {y: 1512, t: 'encapsulated diodes. Typical forward characteristics are', j: true},
  {y: 1536.7, t: 'presented respectively in Fig. 5 (a, b, c) for 2, 8, and 24mm^{2}', j: true},
  {y: 1561.7, t: 'diode.'}
];
const rightLines = [
  {y: 1245, t: 'Figure 5. Forward characteristics temperature dependence of 2mm^{2} (5a),', j: true, ind: 29.3, fam: CONDF, size: capSize, k: capK},
  {y: 1269.3, t: '8mm^{2} (5b) and 24mm^{2} (5c) diode', fam: CONDF, size: capSize, k: capK},
  {y: 1300.7, t: 'Diodes forward performance has been characterized up', j: true, ind: 29.6},
  {y: 1326.7, t: 'to a current density of 250A.cm^{-2} corresponding to 60A for', j: true},
  {y: 1351.7, t: 'the 24mm^{2}. To limit the device auto-heating, these', j: true},
  {y: 1376.7, t: 'characteristics have been obtained in pulse mode with a', j: true},
  {y: 1401, t: 'pulse width of 200µs. At 250A.cm^{-2}, the voltage drop is 4.5V', j: true},
  {y: 1426, t: 'for the 2 and 8mm^{2} diodes and 5V for the 24mm^{2} diodes.', j: true},
  {y: 1451, t: 'These values of voltage drop are high with respect to state', j: true},
  {y: 1476, t: 'of the art [4]. This can be due to the high ohmic contact', j: true},
  {y: 1500.7, t: 'resistance because the ohmic contact of fabricated diodes', j: true},
  {y: 1526, t: 'as measured on TLM test structures is not very good and a', j: true},
  {y: 1551, t: 'high value of contact resistance of about 25mΩ.cm^{-2} is', j: true}
];
leftLines.forEach(o => addLine(Object.assign({x0: L0, x1: L1, fam: BODYF, size: bodySize}, o)));
rightLines.forEach(o => addLine(Object.assign({x0: R0, x1: R1, fam: BODYF, size: bodySize}, o)));
</script>
</body></html>
